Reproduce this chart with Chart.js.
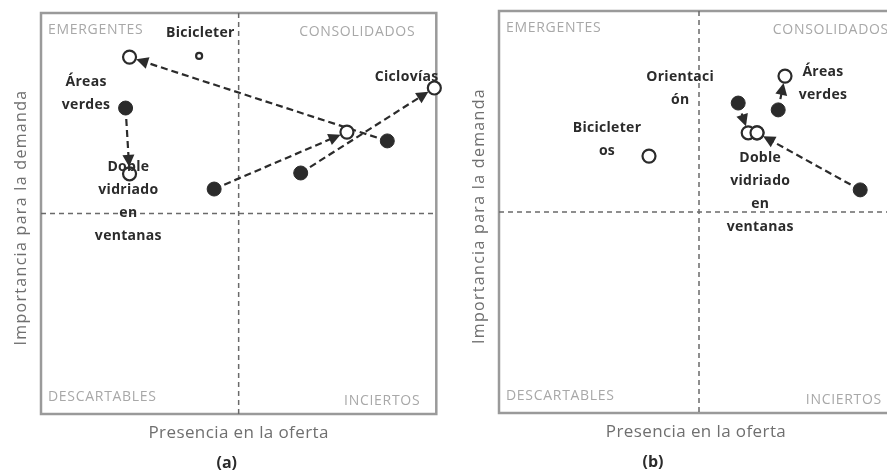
<!DOCTYPE html>
<html lang="es">
<head>
<meta charset="utf-8">
<title>Matriz demanda / oferta</title>
<script src="https://cdn.jsdelivr.net/npm/chart.js@4.4.1/dist/chart.umd.min.js"></script>
<style>
  html, body { margin: 0; padding: 0; background: #fff; }
  body { width: 887px; height: 474px; overflow: hidden; position: relative; }
  canvas { position: absolute; top: 0; }
  #chartA { left: 0; }
  #chartB { left: 440px; }
</style>
</head>
<body>
<canvas id="chartA" width="445" height="474"></canvas>
<canvas id="chartB" width="470" height="474"></canvas>
<script>
// ---- data (0-100 on both axes, quadrant split at 50) ----
// panel (a): filled = before, open = after
const aFromX = [87.6, 21.4, 43.8, 65.7];
const aFromY = [68.1, 76.3, 56.1, 60.1];
const aToX   = [22.4, 22.4, 77.4, 99.5];
const aToY   = [89.0, 59.9, 70.3, 81.3];
const aSoloX = [40.0];
const aSoloY = [89.3];

// panel (b)
const bFromX = [59.8, 69.8, 90.3];
const bFromY = [77.1, 75.4, 55.5];
const bToX   = [62.3, 71.5, 64.5];
const bToY   = [69.7, 83.8, 69.7];
const bSoloX = [37.5, 64.5];
const bSoloY = [63.9, 69.7];

const quadrants = ['EMERGENTES', 'CONSOLIDADOS', 'DESCARTABLES', 'INCIERTOS'];
const xTitle = 'Presencia en la oferta';
const yTitle = 'Importancia para la demanda';

// point labels (anchor = centre of first line, data units)
const aLabels = [
  { lines: ['Bicicleter'], x: 40.3, y: 95.0 },
  { lines: ['Áreas', 'verdes'], x: 11.4, y: 82.8 },
  { lines: ['Doble', 'vidriado', 'en', 'ventanas'], x: 22.1, y: 61.6 },
  { lines: ['Ciclovías'], x: 92.5, y: 84.0 }
];
const bLabels = [
  { lines: ['Orientaci', 'ón'], x: 45.3, y: 83.6 },
  { lines: ['Bicicleter', 'os'], x: 27.0, y: 70.9 },
  { lines: ['Áreas', 'verdes'], x: 81.0, y: 84.8 },
  { lines: ['Doble', 'vidriado', 'en', 'ventanas'], x: 65.3, y: 63.4 }
];

const pts = (xs, ys) => xs.map((x, i) => ({ x, y: ys[i] }));

const INK = '#2b2b2b';
const FRAME = '#9a9a9a';
const QUAD = '#a8a8a8';
const FONT = "'Open Sans', 'DejaVu Sans', sans-serif";

function arrow(ctx, x1, y1, x2, y2, gap) {
  const dx = x2 - x1, dy = y2 - y1;
  const len = Math.hypot(dx, dy);
  const ux = dx / len, uy = dy / len;
  const tx = x2 - ux * gap, ty = y2 - uy * gap;
  const head = 12, wing = 6;
  ctx.save();
  ctx.strokeStyle = INK;
  ctx.fillStyle = INK;
  ctx.lineWidth = 2.2;
  ctx.setLineDash([7, 4]);
  ctx.beginPath();
  ctx.moveTo(x1, y1);
  ctx.lineTo(tx - ux * head * 0.6, ty - uy * head * 0.6);
  ctx.stroke();
  ctx.setLineDash([]);
  ctx.beginPath();
  ctx.moveTo(tx, ty);
  ctx.lineTo(tx - ux * head - uy * wing, ty - uy * head + ux * wing);
  ctx.lineTo(tx - ux * head + uy * wing, ty - uy * head - ux * wing);
  ctx.closePath();
  ctx.fill();
  ctx.restore();
}

function quadrantPlugin(cfg) {
  return {
    id: 'quadrants',
    beforeDatasetsDraw(chart) {
      const { ctx, chartArea: a, scales: { x, y } } = chart;
      const mx = x.getPixelForValue(50), my = y.getPixelForValue(50);
      ctx.save();
      // frame
      ctx.strokeStyle = FRAME;
      ctx.lineWidth = 2.5;
      ctx.strokeRect(a.left, a.top, a.right - a.left, a.bottom - a.top);
      // quadrant dividers
      ctx.strokeStyle = '#6a6a6a';
      ctx.lineWidth = 1.5;
      ctx.setLineDash([5, 4]);
      ctx.beginPath();
      ctx.moveTo(mx, a.top); ctx.lineTo(mx, a.bottom);
      ctx.moveTo(a.left, my); ctx.lineTo(a.right, my);
      ctx.stroke();
      ctx.setLineDash([]);
      // quadrant names
      ctx.fillStyle = QUAD;
      ctx.font = '14px ' + FONT;
      ctx.letterSpacing = '0.7px';
      ctx.textBaseline = 'middle';
      ctx.textAlign = 'left';
      ctx.fillText(quadrants[0], a.left + 7, a.top + 17);
      ctx.fillText(quadrants[2], a.left + 7, a.bottom - 17);
      ctx.textAlign = 'right';
      ctx.fillText(quadrants[1], a.right - cfg.padTR, a.top + 19);
      ctx.fillText(quadrants[3], a.right - cfg.padBR, a.bottom - 13);
      ctx.letterSpacing = '0px';
      // arrows
      cfg.from.forEach((p, i) => {
        const q = cfg.to[i];
        arrow(ctx, x.getPixelForValue(p.x), y.getPixelForValue(p.y),
                   x.getPixelForValue(q.x), y.getPixelForValue(q.y), 7);
      });
      // axis titles
      ctx.fillStyle = '#6f6f6f';
      ctx.font = '17px ' + FONT;
      ctx.letterSpacing = '0.4px';
      ctx.textAlign = 'center';
      ctx.fillText(xTitle, cfg.xTitleX(a), a.bottom + 19);
      ctx.save();
      ctx.translate(a.left - 20, (a.top + a.bottom) / 2 + 4);
      ctx.rotate(-Math.PI / 2);
      ctx.font = '16px ' + FONT;
      ctx.letterSpacing = '1.3px';
      ctx.fillText(yTitle, 0, 0);
      ctx.restore();
      ctx.letterSpacing = '0px';
      // caption
      ctx.fillStyle = INK;
      ctx.font = 'bold 16px ' + FONT;
      ctx.fillText(cfg.caption, a.left + cfg.capFrac * (a.right - a.left), a.bottom + 49);
      ctx.restore();
    },
    afterDatasetsDraw(chart) {
      const { ctx, scales: { x, y } } = chart;
      ctx.save();
      ctx.fillStyle = INK;
      ctx.font = 'bold 14px ' + FONT;
      ctx.letterSpacing = '0.3px';
      ctx.textAlign = 'center';
      ctx.textBaseline = 'middle';
      cfg.labels.forEach(l => {
        const px = x.getPixelForValue(l.x), py = y.getPixelForValue(l.y);
        l.lines.forEach((t, k) => ctx.fillText(t, px, py + k * 23));
      });
      ctx.restore();
    }
  };
}

function makeChart(id, from, to, solo, soloRadius, cfg) {
  return new Chart(document.getElementById(id), {
    type: 'scatter',
    data: {
      datasets: [
        { data: from, pointRadius: 7, pointBackgroundColor: INK, pointBorderColor: INK, pointBorderWidth: 1, clip: false },
        { data: to, pointRadius: 6.5, pointBackgroundColor: '#fff', pointBorderColor: INK, pointBorderWidth: 2.2, clip: false },
        { data: solo, pointRadius: soloRadius, pointBackgroundColor: '#fff', pointBorderColor: INK, pointBorderWidth: 2.2, clip: false }
      ]
    },
    options: {
      responsive: false,
      animation: false,
      events: [],
      layout: { padding: cfg.padding },
      scales: {
        x: { type: 'linear', min: 0, max: 100, display: false },
        y: { type: 'linear', min: 0, max: 100, display: false }
      },
      plugins: { legend: { display: false }, tooltip: { enabled: false } }
    },
    plugins: [quadrantPlugin(cfg)]
  });
}

makeChart('chartA', pts(aFromX, aFromY), pts(aToX, aToY), pts(aSoloX, aSoloY), [3], {
  padding: { left: 41, right: 2, top: 13, bottom: 60 },
  from: pts(aFromX, aFromY), to: pts(aToX, aToY),
  labels: aLabels, caption: '(a)', capFrac: 0.47,
  padTR: 21, padBR: 16,
  xTitleX: a => (a.left + a.right) / 2
});

makeChart('chartB', pts(bFromX, bFromY), pts(bToX, bToY), pts(bSoloX, bSoloY), 6.5, {
  padding: { left: 59, right: 11, top: 11, bottom: 61 },
  from: pts(bFromX, bFromY), to: pts(bToX, bToY),
  labels: bLabels, caption: '(b)', capFrac: 0.385,
  padTR: 10, padBR: 17,
  xTitleX: a => (a.left + a.right) / 2 - 3
});
</script>
</body>
</html>
